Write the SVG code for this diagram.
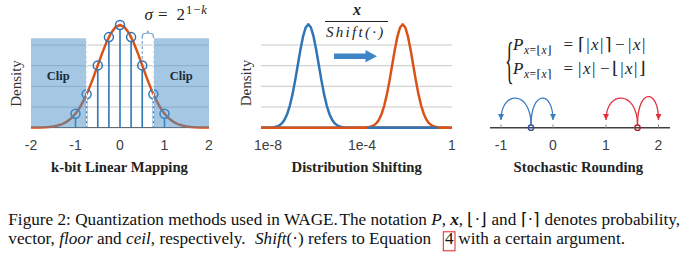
<svg xmlns="http://www.w3.org/2000/svg" xmlns:xlink="http://www.w3.org/1999/xlink" width="700" height="254" viewBox="0 0 700 254">
<style>
.grid{stroke:#c8c8c8;stroke-width:1}
.tick{font-family:"Liberation Sans",Arial,sans-serif;font-size:14px;fill:#404040;text-anchor:middle}
.title{font-family:"Liberation Serif",serif;font-weight:bold;font-size:14.7px;fill:#222;text-anchor:middle}
.dens{font-family:"Liberation Serif",serif;font-size:15px;fill:#333;text-anchor:middle}
.stem{stroke:#2e75b6;stroke-width:1.6}
.dot{fill:none;stroke:#2e75b6;stroke-width:1.5}
.math{font-family:"Liberation Serif","DejaVu Serif",serif;fill:#222}
.it{font-style:italic}
.cap{font-family:"Liberation Serif",serif;font-size:17.2px;fill:#111}
.clip{fill:#4a90c8;fill-opacity:0.5}
.cliptxt{font-family:"Liberation Serif",serif;font-weight:bold;font-size:12.5px;fill:#1a2a3a;text-anchor:middle}
</style>
<defs>
<path id="gauss" fill="none" stroke-width="2.5" stroke-linejoin="round" d="M-47,0 L-42,-0.03 L-36.75,-0.23 L-34.13,-0.53 L-31.5,-1.15 L-28.88,-2.36 L-26.25,-4.54 L-23.63,-8.23 L-21,-13.99 L-18.38,-22.37 L-15.75,-33.57 L-13.13,-47.34 L-10.5,-62.71 L-7.88,-78.05 L-5.25,-91.25 L-2.63,-100.22 L0,-103.4 L2.63,-100.22 L5.25,-91.25 L7.88,-78.05 L10.5,-62.71 L13.13,-47.34 L15.75,-33.57 L18.38,-22.37 L21,-13.99 L23.63,-8.23 L26.25,-4.54 L28.88,-2.36 L31.5,-1.15 L34.13,-0.53 L36.75,-0.23 L42,-0.03 L47,0"/>
<marker id="ahB" viewBox="0 0 6 6" refX="6" refY="3" markerWidth="6" markerHeight="6" markerUnits="userSpaceOnUse" orient="auto"><path d="M0,0 L6,3 L0,6 z" fill="#3a7dc0"/></marker>
<marker id="ahR" viewBox="0 0 6 6" refX="6" refY="3" markerWidth="6" markerHeight="6" markerUnits="userSpaceOnUse" orient="auto"><path d="M0,0 L6,3 L0,6 z" fill="#e0303f"/></marker>
</defs>
<rect width="700" height="254" fill="#ffffff"/>

<g id="panel-linear">
<line class="grid" x1="31" y1="45" x2="209" y2="45"/>
<line class="grid" x1="31" y1="65.7" x2="209" y2="65.7"/>
<line class="grid" x1="31" y1="86.3" x2="209" y2="86.3"/>
<line class="grid" x1="31" y1="107" x2="209" y2="107"/>
<line x1="31" y1="127.6" x2="209" y2="127.6" stroke="#5a5a5a" stroke-width="1"/>
<line class="stem" x1="75.5" y1="127.6" x2="75.5" y2="118.2"/>
<line class="stem" x1="86.6" y1="127.6" x2="86.6" y2="98.8"/>
<line class="stem" x1="97.75" y1="127.6" x2="97.75" y2="69.9"/>
<line class="stem" x1="108.9" y1="127.6" x2="108.9" y2="41.6"/>
<line class="stem" x1="120" y1="127.6" x2="120" y2="29.5"/>
<line class="stem" x1="131.1" y1="127.6" x2="131.1" y2="41.6"/>
<line class="stem" x1="142.25" y1="127.6" x2="142.25" y2="69.9"/>
<line class="stem" x1="153.4" y1="127.6" x2="153.4" y2="98.8"/>
<line class="stem" x1="164.5" y1="127.6" x2="164.5" y2="118.2"/>
<line x1="142.25" y1="36" x2="142.25" y2="60.5" stroke="#7aa6d2" stroke-width="1.2" stroke-dasharray="3,2"/>
<line x1="153.4" y1="36" x2="153.4" y2="38.3" stroke="#7aa6d2" stroke-width="1.2"/>
<path d="M142.25,37 Q142.25,33.5 144.5,33.5 L146,33.5 Q147.8,33.5 147.8,30.5 Q147.8,33.5 149.6,33.5 L151.1,33.5 Q153.4,33.5 153.4,37" fill="none" stroke="#7aa6d2" stroke-width="1.2"/>
<polyline fill="none" stroke="#d95319" stroke-width="2.5" stroke-linejoin="round" points="31,127.6 35.45,127.53 39.9,127.44 44.35,127.28 48.8,126.99 53.25,126.46 57.7,125.56 62.15,124.11 66.6,121.84 71.05,118.48 75.5,113.71 79.95,107.3 84.4,99.08 88.85,89.09 93.3,77.65 97.75,65.37 102.2,53.1 106.65,41.9 111.1,32.89 115.55,27.03 120,25 124.45,27.03 128.9,32.89 133.35,41.9 137.8,53.1 142.25,65.37 146.7,77.65 151.15,89.09 155.6,99.08 160.05,107.3 164.5,113.71 168.95,118.48 173.4,121.84 177.85,124.11 182.3,125.56 186.75,126.46 191.2,126.99 195.65,127.28 200.1,127.44 204.55,127.53 209,127.6"/>
<circle class="dot" cx="75.5" cy="113.7" r="4.5"/>
<circle class="dot" cx="86.6" cy="94.3" r="4.5"/>
<circle class="dot" cx="97.75" cy="65.4" r="4.5"/>
<circle class="dot" cx="108.9" cy="37.1" r="4.5"/>
<circle class="dot" cx="120" cy="25" r="4.5"/>
<circle class="dot" cx="131.1" cy="37.1" r="4.5"/>
<circle class="dot" cx="142.25" cy="65.4" r="4.5"/>
<circle class="dot" cx="153.4" cy="94.3" r="4.5"/>
<circle class="dot" cx="164.5" cy="113.7" r="4.5"/>
<rect class="clip" x="31" y="38.3" width="55.6" height="89.3"/>
<rect class="clip" x="153.4" y="38.3" width="55.6" height="89.3"/>
<line x1="86.6" y1="38.3" x2="86.6" y2="127.6" stroke="#ffffff" stroke-width="1.2" stroke-dasharray="3,2"/>
<line x1="153.4" y1="38.3" x2="153.4" y2="127.6" stroke="#ffffff" stroke-width="1.2" stroke-dasharray="3,2"/>
<text class="cliptxt" x="58.3" y="80">Clip</text>
<text class="cliptxt" x="181.3" y="80">Clip</text>
<text class="math it" x="144.5" y="20" font-size="17">σ</text>
<text class="math" x="158" y="20" font-size="17">=</text>
<text class="math" x="176.5" y="20" font-size="17">2</text>
<text class="math" x="186" y="13.5" font-size="12.5" letter-spacing="1">1−<tspan class="it">k</tspan></text>
<text class="dens" transform="translate(21,83.5) rotate(-90)">Density</text>
<text class="tick" x="31" y="150">-2</text>
<text class="tick" x="75.5" y="150">-1</text>
<text class="tick" x="120" y="150">0</text>
<text class="tick" x="164.5" y="150">1</text>
<text class="tick" x="209" y="150">2</text>
<text class="title" x="119.5" y="172">k-bit Linear Mapping</text>
</g>

<g id="panel-shift">
<line class="grid" x1="261" y1="45" x2="452" y2="45"/>
<line class="grid" x1="261" y1="65.7" x2="452" y2="65.7"/>
<line class="grid" x1="261" y1="86.3" x2="452" y2="86.3"/>
<line class="grid" x1="261" y1="107" x2="452" y2="107"/>
<line x1="261" y1="127.7" x2="452" y2="127.7" stroke="#2e75b6" stroke-width="2.5"/>
<use xlink:href="#gauss" href="#gauss" transform="translate(308.3,127.7)" stroke="#2e75b6"/>
<line x1="261" y1="127.7" x2="452" y2="127.7" stroke="#d95319" stroke-width="2.5"/>
<use xlink:href="#gauss" href="#gauss" transform="translate(402.7,127.7)" stroke="#d95319"/>
<line x1="367" y1="127.7" x2="438" y2="127.7" stroke="#2e75b6" stroke-width="2.5"/>
<polygon points="334,53.5 365.5,53.5 365.5,50 377,56.2 365.5,62.3 365.5,59 334,59" fill="#3d85c6"/>
<text class="math" x="357" y="15" font-size="16" font-weight="bold" font-style="italic" text-anchor="middle">x</text>
<line x1="325" y1="21.5" x2="388" y2="21.5" stroke="#222" stroke-width="1"/>
<text class="math it" x="326" y="37" font-size="15" letter-spacing="2.3">Shift(·)</text>
<text class="dens" transform="translate(251,83) rotate(-90)">Density</text>
<text class="tick" x="268" y="150">1e-8</text>
<text class="tick" x="362" y="150">1e-4</text>
<text class="tick" x="452" y="150">1</text>
<text class="title" x="356.7" y="172">Distribution Shifting</text>
</g>

<g id="panel-rounding">
<text class="math" transform="translate(505,77) scale(0.36,1)" font-size="50">{</text>
<text class="math it" x="513" y="50" font-size="17">P</text>
<text class="math" x="524" y="54" font-size="11.5" letter-spacing="0.5"><tspan class="it">x</tspan>=⌊<tspan class="it">x</tspan>⌋</text>
<text class="math" x="563.5" y="50" font-size="17">=</text>
<text class="math" x="578" y="50" font-size="17" letter-spacing="1.5">⌈|<tspan class="it">x</tspan>|⌉</text>
<text class="math" x="615" y="50" font-size="17">−</text>
<text class="math" x="628" y="50" font-size="17" letter-spacing="1.5">|<tspan class="it">x</tspan>|</text>
<text class="math it" x="513" y="74" font-size="17">P</text>
<text class="math" x="524" y="78" font-size="11.5" letter-spacing="0.5"><tspan class="it">x</tspan>=⌈<tspan class="it">x</tspan>⌉</text>
<text class="math" x="563.5" y="74" font-size="17">=</text>
<text class="math" x="578" y="74" font-size="17" letter-spacing="1.5">|<tspan class="it">x</tspan>|</text>
<text class="math" x="600" y="74" font-size="17">−</text>
<text class="math" x="612" y="74" font-size="17" letter-spacing="1.5">⌊|<tspan class="it">x</tspan>|⌋</text>
<line x1="490" y1="127.7" x2="670" y2="127.7" stroke="#404040" stroke-width="1.5"/>
<line x1="501" y1="124.5" x2="501" y2="127.7" stroke="#909090" stroke-width="1"/>
<line x1="553" y1="124.5" x2="553" y2="127.7" stroke="#909090" stroke-width="1"/>
<line x1="606" y1="124.5" x2="606" y2="127.7" stroke="#909090" stroke-width="1"/>
<line x1="658.5" y1="124.5" x2="658.5" y2="127.7" stroke="#909090" stroke-width="1"/>
<g id="connectors" fill="none" stroke-width="1.3">
<path d="M531,125 C531,90 501,90 501,120" stroke="#3a7dc0" marker-end="url(#ahB)"/>
<path d="M531,125 C531,90 553,90 553,120" stroke="#3a7dc0" marker-end="url(#ahB)"/>
<path d="M637.5,125 C637.5,90 606,90 606,120" stroke="#e0303f" marker-end="url(#ahR)"/>
<path d="M637.5,125 C637.5,88 658.5,88 658.5,120" stroke="#e0303f" marker-end="url(#ahR)"/>
</g>
<circle cx="531" cy="127.7" r="2.7" fill="none" stroke="#2f5597" stroke-width="1.3"/>
<circle cx="637.5" cy="127.7" r="2.7" fill="none" stroke="#b0202a" stroke-width="1.3"/>
<text class="tick" x="501" y="150">-1</text>
<text class="tick" x="553" y="150">0</text>
<text class="tick" x="606" y="150">1</text>
<text class="tick" x="658.5" y="150">2</text>
<text class="title" x="578.3" y="172">Stochastic Rounding</text>
</g>

<g id="caption">
<text class="cap" x="8.3" y="225">Figure 2: Quantization methods used in WAGE.</text>
<text class="cap" x="339.5" y="225" font-size="17px">The notation <tspan font-style="italic">P</tspan>, <tspan font-style="italic" font-weight="bold">x</tspan>, ⌊·⌋ and ⌈·⌉ denotes probability,</text>
<text class="cap" x="8.3" y="244.1">vector, <tspan font-style="italic">floor</tspan> and <tspan font-style="italic">ceil</tspan>, respectively.</text>
<text class="cap" x="255" y="244.1"><tspan font-style="italic">Shift</tspan>(·) refers to Equation</text>
<text class="cap" x="445" y="244.1">4</text>
<text class="cap" x="458.3" y="244.1">with a certain argument.</text>
<rect x="443.3" y="231.8" width="11.7" height="19" fill="none" stroke="#e02020" stroke-width="1"/>
</g>
</svg>
